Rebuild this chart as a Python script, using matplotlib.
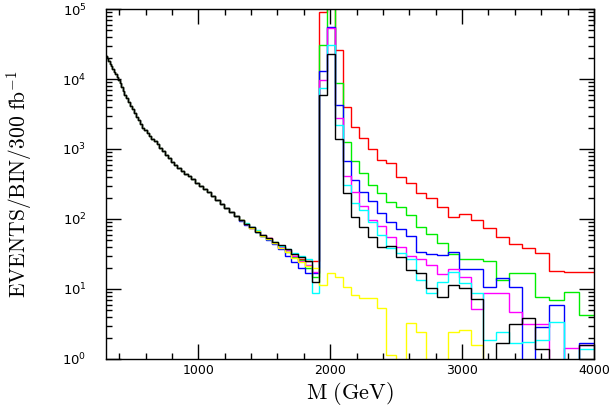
import matplotlib
matplotlib.use('Agg')
import matplotlib.pyplot as plt
import numpy as np
from matplotlib.ticker import MultipleLocator, LogLocator, NullFormatter, LogFormatterMathtext

# log-spaced mass bins, 300 - 4000 GeV
edges = np.geomspace(300, 4000, 89)

# common continuum below ~1.25 TeV (all curves on top of each other there)
common = [21400, 19900, 18200, 16600, 15200, 13900, 12700, 11700, 10700, 9770,
          8650, 7640, 6760, 6000, 5320, 4710, 4170, 3700, 3280, 2900,
          2570, 2280, 2010, 1850, 1690, 1540, 1400, 1280, 1170, 1050,
          935, 830, 740, 660, 590, 535, 490, 445, 405, 370,
          330, 300, 270, 245, 215, 187, 163, 144, 126, 110]

# per model, bins 50..87
red = [97, 86, 74, 68, 58, 53, 45, 40, 36, 30, 27, 25, 25,
       9.1e4, 1.5e5, 2.6e4, 4.0e3, 2090, 1450, 995, 697, 624, 403, 323, 233,
       197, 150, 108, 118, 97, 75, 56, 44, 38, 33, 18.3, 17.7, 17.3]
green = [96, 84, 77, 66, 60, 51, 47, 40, 34, 29, 26, 20, 15,
         3.06e4, 1.3e5, 8.7e3, 1260, 675, 460, 306, 237, 177, 147, 114, 78,
         62, 45, 32, 26.5, 26.5, 25, 13.4, 16.7, 16.7, 7.8, 7.0, 9.2, 4.3]
blue = [95, 83, 75, 66, 57, 50, 44, 37, 30, 24, 20, 17, 16.8,
        1.3e4, 5.6e4, 4.3e3, 675, 361, 243, 181, 123, 92, 71, 57, 34,
        32, 31, 34, 19, 19, 10.8, 14.5, 10.8, 0, 2.9, 5.9, 0, 1.7]
magenta = [98, 86, 78, 68, 60, 54, 46, 40, 36, 30, 25, 22, 17.7,
           9.7e3, 5.4e4, 2.8e3, 415, 243, 154, 97, 80, 56, 40, 30, 26.5,
           22, 16.4, 19.1, 15, 5.1, 8.7, 8.9, 4.7, 3.2, 3.2, 0, 1.42, 1.6]
cyan = [97, 87, 76, 69, 58, 52, 46, 41, 37, 33, 30, 27, 8.8,
        7.5e3, 3.06e4, 2.2e3, 306, 169, 134, 90, 60, 38, 33, 26.5, 13.4,
        8.7, 12.7, 17.7, 12.3, 8.7, 1.87, 2.46, 1.71, 1.73, 1.87, 3.4, 0, 1.37]
yellow = [96, 85, 75, 67, 58, 51, 45, 39, 34, 28, 24, 21, 20,
          11.4, 16.8, 15, 10.8, 8.2, 7.4, 7.4, 5.3, 1.14, 0, 3.3, 2.46,
          0, 0, 2.46, 2.6, 1.58, 0, 0, 0, 0, 0, 0, 0, 0]
black = [97, 85, 77, 66, 59, 53, 47, 42, 37, 32, 29, 25, 12.7,
         6.0e3, 2.3e4, 1.4e3, 236, 108, 78, 56, 40, 41, 29, 18.7, 16.7,
         10.2, 7.8, 11.4, 10.2, 7.1, 0, 1.67, 3.2, 3.8, 1.37, 0, 0, 1.58]

models = [(red, 'red'), (green, '#00ee00'), (blue, 'blue'), (magenta, 'magenta'),
          (cyan, 'cyan'), (yellow, 'yellow'), (black, 'black')]

fig = plt.figure(figsize=(6.11, 4.09), dpi=100)
ax = fig.add_axes([106/611, 50/409, 488/611, 350/409])

for vals, col in models:
    y = np.array(common + vals, dtype=float)
    y = np.clip(y, 1e-3, None)  # empty bins drop off the bottom
    ax.stairs(y, edges, color=col, lw=1.0, baseline=None)

ax.set_yscale('log')
ax.set_xlim(300, 4000)
ax.set_ylim(1, 1e5)

ax.xaxis.set_major_locator(MultipleLocator(1000))
ax.xaxis.set_minor_locator(MultipleLocator(200))
ax.yaxis.set_major_locator(LogLocator(base=10, numticks=10))
ax.yaxis.set_minor_locator(LogLocator(base=10, subs=np.arange(2, 10), numticks=10))
ax.yaxis.set_minor_formatter(NullFormatter())
ax.yaxis.set_major_formatter(LogFormatterMathtext())

ax.tick_params(which='both', direction='in', top=True, right=True, width=1.0)
ax.tick_params(which='major', length=10.5)
ax.tick_params(which='minor', length=4)
ax.tick_params(axis='x', which='major', pad=3.5, labelsize=9)
ax.tick_params(axis='y', which='major', pad=14, labelsize=9.5)
for s in ax.spines.values():
    s.set_linewidth(1.0)

ax.set_xlabel(r'$\mathrm{M\ (GeV)}$', fontsize=16, math_fontfamily='cm', labelpad=2)
ax.set_ylabel(r'$\mathrm{EVENTS/BIN/300\ fb^{-1}}$', fontsize=15.5, math_fontfamily='cm')
ax.yaxis.set_label_coords(-0.148, 0.5)

fig.savefig('out.png', dpi=100)
